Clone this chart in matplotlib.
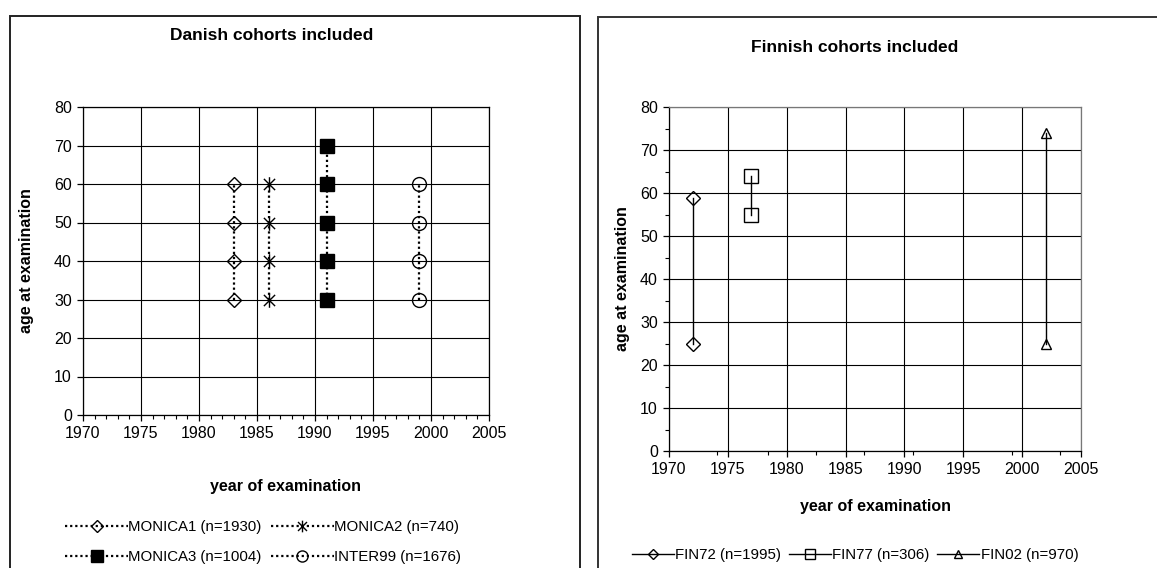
import numpy as np
import matplotlib
matplotlib.use("Agg")
import matplotlib.pyplot as plt
from matplotlib.path import Path
from matplotlib.patches import Rectangle

plt.rcParams['font.family'] = ['Liberation Sans', 'DejaVu Sans']

# Danish cohorts: year of examination and ages examined
dk_names = ['MONICA1 (n=1930)', 'MONICA2 (n=740)', 'MONICA3 (n=1004)', 'INTER99 (n=1676)']
dk_years = [1983, 1986, 1991, 1999]
dk_ages = [[30, 40, 50, 60],
           [30, 40, 50, 60],
           [30, 40, 50, 60, 70],
           [30, 40, 50, 60]]

# Finnish cohorts: year and age range
fi_names = ['FIN72 (n=1995)', 'FIN77 (n=306)', 'FIN02 (n=970)']
fi_years = [1972, 1977, 2002]
fi_ages = [[25, 58.8],
           [55, 64],
           [25, 74]]

W, H = 1157, 568
fig = plt.figure(figsize=(W / 100, H / 100), dpi=100)

# excel style star marker (X with vertical bar)
star = Path([(-1, -1), (1, 1), (-1, 1), (1, -1), (0, -1.3), (0, 1.3)],
            [Path.MOVETO, Path.LINETO, Path.MOVETO, Path.LINETO, Path.MOVETO, Path.LINETO])

# chart frames
fig.patches.append(Rectangle((10 / W, -0.1), 570 / W, 1.1 - 16 / H, transform=fig.transFigure,
                             fill=False, edgecolor='#222222', lw=1.4))
fig.patches.append(Rectangle((598 / W, -0.1), 0.6, 1.1 - 17 / H, transform=fig.transFigure,
                             fill=False, edgecolor='#333333', lw=1.4))


def fa(x0, y0, x1, y1):
    return [x0 / W, 1 - y1 / H, (x1 - x0) / W, (y1 - y0) / H]


def style_axes(ax):
    ax.set_xlim(1970, 2005)
    ax.set_ylim(0, 80)
    ax.set_xticks(np.arange(1970, 2006, 5))
    ax.set_yticks(np.arange(0, 81, 10))
    ax.grid(True, which='major', color='black', lw=0.8)
    ax.set_axisbelow(True)
    for s in ax.spines.values():
        s.set_color('black')
        s.set_linewidth(0.9)
    ax.tick_params(which='major', direction='out', length=4, width=0.9, labelsize=11.5, pad=4)
    ax.tick_params(which='minor', direction='out', length=3, width=0.8)


# ---- Danish
ax1 = fig.add_axes(fa(83, 107, 489, 415))
style_axes(ax1)
ax1.set_xticks(np.arange(1970, 2006, 1), minor=True)
dk_markers = ['D', star, 's', 'o']
dk_ms = [7.5, 10.5, 10.5, 10]
dk_fc = ['none', 'none', 'black', 'none']
for name, yr, ages, m, ms, fc in zip(dk_names, dk_years, dk_ages, dk_markers, dk_ms, dk_fc):
    ax1.plot([yr] * len(ages), ages, color='black', lw=1.6, linestyle=(0, (1, 1.3)),
             marker=m, markersize=ms, markerfacecolor=fc, markeredgecolor='black',
             markeredgewidth=1.0, label=name)
fig.text(272 / W, 1 - 35 / H, 'Danish cohorts included', ha='center', va='center',
         fontsize=12.5, fontweight='bold')
fig.text(285 / W, 1 - 487 / H, 'year of examination', ha='center', va='center',
         fontsize=11.5, fontweight='bold')
fig.text(27 / W, 1 - 261 / H, 'age at examination', ha='center', va='center',
         rotation=90, fontsize=11.5, fontweight='bold')
h, l = ax1.get_legend_handles_labels()
order = [0, 2, 1, 3]  # fill legend row by row
fig.legend([h[i] for i in order], [l[i] for i in order], loc='center',
           bbox_to_anchor=(263 / W, 1 - 542 / H),
           ncol=2, frameon=False, fontsize=10.8, handlelength=4.2, handletextpad=0.0,
           columnspacing=0.6, labelspacing=1.05, borderpad=0, markerscale=0.8)

# ---- Finnish
ax2 = fig.add_axes(fa(669, 107, 1081, 451))
style_axes(ax2)
ax2.set_yticks(np.arange(5, 80, 10), minor=True)
ax2.set_xticks([1974.1, 1978.4, 1982.5, 1986.6, 1990.7, 1995.0, 1999.1, 2003.2], minor=True)
ax2.spines['right'].set_color('#777777')
ax2.spines['top'].set_color('#777777')
fi_markers = ['D', 's', '^']
fi_ms = [7, 10, 7]
for name, yr, ages, m, ms in zip(fi_names, fi_years, fi_ages, fi_markers, fi_ms):
    ax2.plot([yr] * len(ages), ages, color='black', lw=1.0, marker=m, markersize=ms,
             markerfacecolor='none', markeredgecolor='black', markeredgewidth=1.0, label=name)
fig.text(855 / W, 1 - 47 / H, 'Finnish cohorts included', ha='center', va='center',
         fontsize=12.5, fontweight='bold')
fig.text(876 / W, 1 - 507 / H, 'year of examination', ha='center', va='center',
         fontsize=11.5, fontweight='bold')
fig.text(623 / W, 1 - 279 / H, 'age at examination', ha='center', va='center',
         rotation=90, fontsize=11.5, fontweight='bold')
fig.legend(*ax2.get_legend_handles_labels(), loc='center', bbox_to_anchor=(855 / W, 1 - 555 / H),
           ncol=3, frameon=False, fontsize=10.8, handlelength=2.8, handletextpad=0.1,
           columnspacing=0.5, borderpad=0, markerscale=0.75)

fig.savefig('out.png', dpi=100)
